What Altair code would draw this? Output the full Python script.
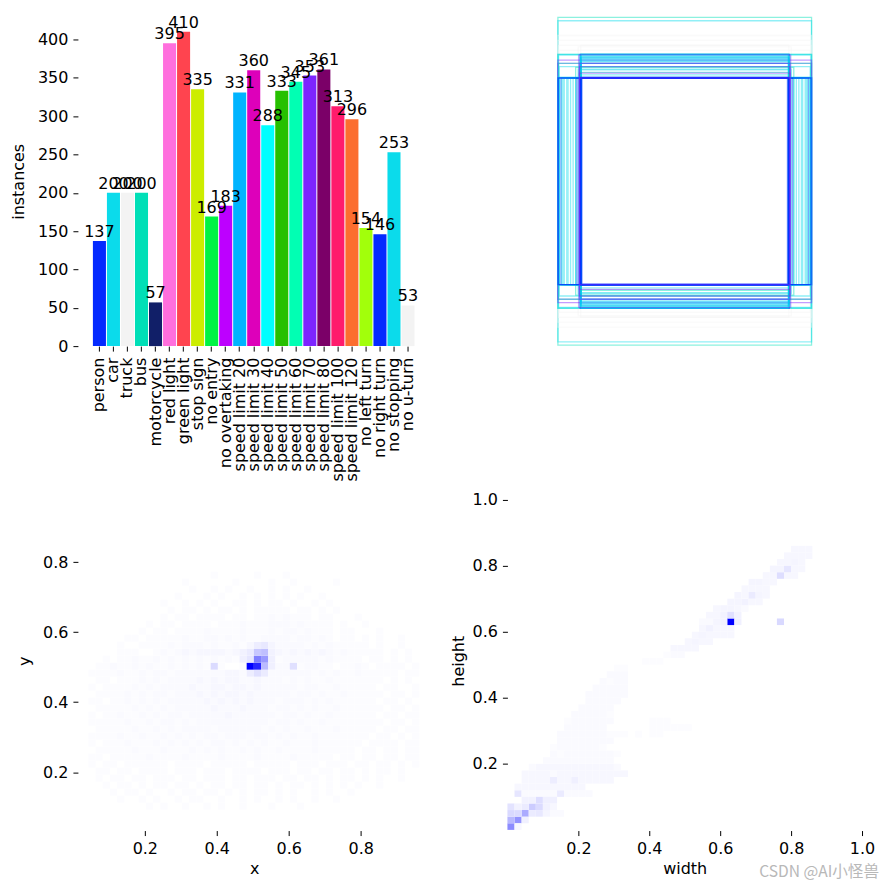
import altair as alt
import pandas as pd

class_names = ["person", "car", "truck", "bus", "motorcycle", "red light", "green light", "stop sign",
               "no entry", "no overtaking", "speed limit 20", "speed limit 30", "speed limit 40",
               "speed limit 50", "speed limit 60", "speed limit 70", "speed limit 80", "speed limit 100",
               "speed limit 120", "no left turn", "no right turn", "no stopping", "no u-turn"]
instances = [137, 200, 200, 200, 57, 395, 410, 335, 169, 183, 331, 360, 288, 333, 345, 353, 361, 313, 296,
             154, 146, 253, 53]
palette = ["#042AFF", "#0BDBEB", "#F3F3F3", "#00DFB7", "#111F68", "#FF6FDD", "#FF444F", "#CCED00", "#00F344",
           "#BD00FF", "#00B4FF", "#DD00BA", "#00FFFF", "#26C000", "#01FFB3", "#7D24FF", "#7B0068", "#FF1B6C",
           "#FC6D2F", "#A2FF0B", "#042AFF", "#0BDBEB", "#F3F3F3"]

# centred label boxes: width, height (fractions of the picture) and class
box_w = [1.0, 1.0, 1.0, 1.0, .995, .99, .82, .84,
         1.0, 1.0, .995, .82, .82, .825, .815, .835, .83,
         1.0, 1.0, .995, .99, .86, .84,
         .82, .82, .82, .82, .82, .82, .82, .82, .82, .825, .82, .82, .82, .83, .83,
         .99, .985, .975, .97, .96, .95, .93, .92, .90, .88, .86, .85,
         1.0, 1.0, 1.0, .995, .82, .825, .82, .815, .825, .82, .81, .83, .83]
box_h = [1.0, .98, .89, .86, .83, .80, .83, .82,
         .775, .775, .77, .775, .775, .775, .775, .77, .76,
         .74, .72, .72, .70, .695, .685,
         .765, .76, .755, .75, .745, .74, .735, .73, .72, .70, .68, .665, .65, .66, .72,
         .631, .631, .631, .631, .631, .631, .631, .631, .631, .631, .631, .631,
         .631, .631, .635, .631, .631, .631, .635, .631, .628, .631, .628, .631, .70]
box_class = ["bus", "car", "truck", "truck", "truck", "truck", "truck", "truck",
             "bus", "car", "car", "car", "car", "person", "car", "speed limit 70", "car",
             "speed limit 70", "speed limit 70", "bus", "car", "bus", "car",
             "car", "car", "speed limit 20", "car", "speed limit 20", "car", "speed limit 20", "car", "speed limit 20", "bus", "car",
             "bus", "car", "speed limit 70", "speed limit 70",
             "car", "car", "person", "car", "car", "car", "car", "car", "car", "car", "car", "person",
             "person", "person", "car", "person", "person", "person", "person", "person", "person", "person",
             "person", "speed limit 70", "speed limit 70"]

# 2-D histogram x / y: (row, first column, counts in that row)
xy_rows = [
    (3, 8, "0010100100101001000100010"),
    (4, 4, "00100101001011001001010010100100100"),
    (5, 3, "0010110100101101101010110101001010010"),
    (6, 2, "00101101011011010110110110101101010101001"),
    (7, 2, "01011011011101101110110111011011010110101001"),
    (8, 2, "01101101111011101110111101110110110110101101"),
    (9, 2, "1011011111101111011111011111011101110110110101"),
    (10, 2, "1101111121111211112111121111211111011011011011"),
    (11, 2, "0111112111211121212112121121111211111011011011"),
    (12, 2, "1011121112121212122121212112111211111101111011"),
    (13, 2, "1111211211212121221222122121211211111110110101"),
    (14, 2, "0111112112121222212222221212112111211111011011"),
    (15, 2, "1111121121221212222222222122121121111111101101"),
    (16, 2, "1011211212122122222322222212212112111111011011"),
    (17, 2, "0111112121212222232223222122121211211111101101"),
    (18, 2, "1101121212122222323232322212221212111111011010"),
    (19, 2, "0111121212212223232332322222122121121111101101"),
    (20, 2, "1011112121222232233233232222212211211111011001"),
    (21, 2, "0110111212122223232332232221212112111111101010"),
    (22, 2, "1111211212212222222332322222222121211211111011"),
    (23, 2, "0112112121121212111001112122212211011210111101"),
    (24, 2, "0010112112121212121211122212222212111101101010"),
    (25, 2, "0000111001212323333233333332323232121111101010"),
    (26, 2, "0000100111121222121121212222221212111110100100"),
    (27, 2, "0000011011111211221212112222122121011010100100"),
    (28, 2, "0000000101101111211112111212212111011000100000"),
    (29, 2, "0000000010110111101112111222121111010010000000"),
    (30, 2, "0000000000101101111011011212111011000100000000"),
    (31, 2, "0000000000010110101101011111011010100000000000"),
    (32, 2, "0000000000100101010011010110100101000000000000"),
    (33, 2, "0000000000001000101001010101010010000000000000"),
    (34, 2, "0000000000000010010100100101001000000000000000"),
    (35, 2, "0000000000000100000010000100100000100000000000"),
    (36, 2, "0000000000000000010000010001000000000000000000"),
]
xy_hot_col = [24, 25, 26, 27, 23, 24, 25, 26, 27, 23, 24, 25, 26, 27, 24, 25, 26, 27, 24, 25, 26, 19, 30]
xy_hot_row = [23, 23, 23, 23, 24, 24, 24, 24, 24, 25, 25, 25, 25, 25, 26, 26, 26, 26, 22, 22, 22, 23, 23]
xy_hot_val = [100, 85, 27, 6, 6, 10, 50, 40, 6, 5, 8, 22, 25, 5, 3, 7, 9, 4, 7, 12, 8, 14, 12]

# 2-D histogram width / height: (row, first column, counts in that row)
wh_rows = [
    (5, 0, "022222222222"), (6, 1, "3333333333"), (7, 2, "3333333333333"), (8, 2, "333323333333333"),
    (9, 3, "2333333333332"), (10, 5, "2222222222"), (11, 6, "2122222221"), (12, 6, "12222221"),
    (13, 7, "22222222"), (14, 7, "222222211101011"), (15, 8, "222222000000111111"),
    (16, 8, "1222222000001110"), (17, 9, "222221"), (18, 10, "22222"), (19, 11, "22222"),
    (20, 11, "222222"), (21, 12, "22222"), (22, 13, "2122"), (23, 14, "222"), (24, 15, "11"),
    (25, 19, "111"), (26, 22, "122"), (27, 23, "3333"), (28, 25, "3333"), (29, 26, "333333"),
    (30, 27, "33333"), (31, 27, "22"), (32, 28, "333"), (33, 29, "34332"), (34, 31, "44433"),
    (35, 32, "43333"), (36, 33, "3333"), (37, 34, "4433"), (38, 36, "33333"), (39, 37, "44333"),
    (40, 38, "3343"), (41, 39, "3333"), (42, 40, "333"),
]
wh_hot_col = [0, 1, 0, 2, 1, 0, 3, 4, 0, 2, 1, 4, 1, 2, 3, 4, 5, 6, 7, 5, 6, 2, 1, 3, 4, 5, 6, 7, 6, 9,
              31, 38, 30, 31, 32, 29, 32, 30, 31, 28, 27, 26, 38, 39, 34, 35, 33]
wh_hot_row = [0, 1, 1, 2, 2, 2, 3, 3, 3, 3, 3, 4, 5, 4, 4, 2, 2, 2, 2, 3, 3, 1, 0, 2, 2, 4, 4, 5, 7, 7,
              31, 31, 31, 32, 32, 31, 31, 32, 33, 30, 29, 28, 38, 39, 35, 35, 34]
wh_hot_val = [45, 42, 28, 33, 14, 15, 20, 14, 11, 8, 5, 13, 10, 5, 5, 5, 4, 2, 2, 5, 3, 6, 3, 8, 9, 6, 6, 8, 7,
              6, 100, 15, 5, 12, 5, 4, 6, 5, 4, 5, 4, 4, 13, 10, 8, 4, 5]


def cells(rows, hot_col, hot_row, hot_val):
    values = {}
    for row, first, digits in rows:
        for i, d in enumerate(digits):
            if d != "0":
                values[(first + i, row)] = int(d)
    for c, r, v in zip(hot_col, hot_row, hot_val):
        values[(c, r)] = v
    return pd.DataFrame([{"col": c, "row": r, "count": v} for (c, r), v in values.items()])


FONT = "DejaVu Sans"
FS = 16
axis_style = dict(domain=False, grid=False, tickSize=5, tickColor="#000", labelColor="#000", titleColor="#000",
                  labelFont=FONT, titleFont=FONT, labelFontSize=FS, titleFontSize=FS, titleFontWeight="normal",
                  labelPadding=5, labelFlush=False)

bars_df = pd.DataFrame({"name": class_names, "n": instances})
bar_x = alt.X("name:N", sort=class_names, title=None,
              scale=alt.Scale(paddingInner=0.07, paddingOuter=0, range=[15, 337]),
              axis=alt.Axis(labelAngle=-90, labelOverlap=False, labelLimit=200, **{**axis_style, "labelPadding": 6}))
bar_y = alt.Y("n:Q", title="instances", scale=alt.Scale(domain=[0, 430], nice=False),
              axis=alt.Axis(values=list(range(0, 401, 50)), titlePadding=11, **axis_style))
bars = alt.Chart(bars_df).mark_bar().encode(
    x=bar_x, y=bar_y,
    color=alt.Color("name:N", sort=None, scale=alt.Scale(domain=class_names, range=palette), legend=None))
bar_text = alt.Chart(bars_df).mark_text(baseline="bottom", dy=-1, font=FONT, fontSize=FS, color="#000").encode(
    x=bar_x, y=bar_y, text="n:Q")
panel_bars = (bars + bar_text).properties(width=353, height=330)

boxes_df = pd.DataFrame({"w": box_w, "h": box_h, "cls": box_class, "order": range(len(box_w))})
panel_boxes = alt.Chart(boxes_df).transform_calculate(
    x0="-datum.w/2", x1="datum.w/2", y0="-datum.h/2", y1="datum.h/2"
).mark_rect(filled=False, opacity=0.45, strokeWidth=1.3).encode(
    x=alt.X("x0:Q", axis=None, scale=alt.Scale(domain=[-0.699, 0.699], nice=False, zero=False)),
    x2="x1:Q",
    y=alt.Y("y0:Q", axis=None, scale=alt.Scale(domain=[-0.503, 0.503], nice=False, zero=False)),
    y2="y1:Q",
    order="order:Q",
    stroke=alt.Stroke("cls:N", scale=alt.Scale(domain=class_names[:-3], range=palette[:-3]), legend=None),
).properties(width=355, height=330)

blue = alt.Scale(domain=[0, 100], range=["#FFFFFF", "#0000FF"], interpolate="rgb")

xy_df = cells(xy_rows, xy_hot_col, xy_hot_row, xy_hot_val)
panel_xy = alt.Chart(xy_df).transform_calculate(
    x0="0.003+0.02*datum.col", x1="0.023+0.02*datum.col",
    y0="0.033+0.02*datum.row", y1="0.053+0.02*datum.row"
).mark_rect().encode(
    x=alt.X("x0:Q", title="x", scale=alt.Scale(domain=[0.014, 0.994], nice=False, zero=False),
            axis=alt.Axis(values=[0.2, 0.4, 0.6, 0.8], format=".1f", **axis_style)),
    x2="x1:Q",
    y=alt.Y("y0:Q", title="y", scale=alt.Scale(domain=[0.033, 1.004], nice=False, zero=False),
            axis=alt.Axis(values=[0.2, 0.4, 0.6, 0.8], format=".1f", titlePadding=10, **axis_style)),
    y2="y1:Q",
    color=alt.Color("count:Q", scale=blue, legend=None),
).properties(width=353, height=340)

wh_df = cells(wh_rows, wh_hot_col, wh_hot_row, wh_hot_val)
wh_rects = alt.Chart(wh_df).transform_calculate(
    x0="0.02*datum.col", x1="0.02+0.02*datum.col",
    y0="0.02*datum.row", y1="0.02+0.02*datum.row"
).mark_rect().encode(
    x=alt.X("x0:Q", title="width", scale=alt.Scale(domain=[0, 1.0], nice=False, zero=False),
            axis=alt.Axis(values=[0.2, 0.4, 0.6, 0.8, 1.0], format=".1f", **axis_style)),
    x2="x1:Q",
    y=alt.Y("y0:Q", title="height", scale=alt.Scale(domain=[-0.002, 1.026], nice=False, zero=False),
            axis=alt.Axis(values=[0.2, 0.4, 0.6, 0.8, 1.0], format=".1f", titlePadding=6, **axis_style)),
    y2="y1:Q",
    color=alt.Color("count:Q", scale=blue, legend=None),
)
watermark = alt.Chart(pd.DataFrame({"t": ["CSDN @AI小怪兽"]})).mark_text(
    align="right", baseline="middle", font="Noto Sans CJK SC", fontSize=15.6, color="#B8B8B8"
).encode(x=alt.value(372), y=alt.value(381), text="t:N")
panel_wh = (wh_rects + watermark).properties(width=355, height=340)

chart = alt.concat(panel_bars, panel_boxes, panel_xy, panel_wh, columns=2,
                   spacing=alt.RowColnumber(row=9, column=19)).resolve_scale(
    color="independent", x="independent", y="independent"
).properties(background="white", padding={"left": 2, "top": 6, "right": 0, "bottom": 0}).configure_view(stroke=None)

chart.save("out.html", embed_options={"renderer": "svg", "actions": False})
